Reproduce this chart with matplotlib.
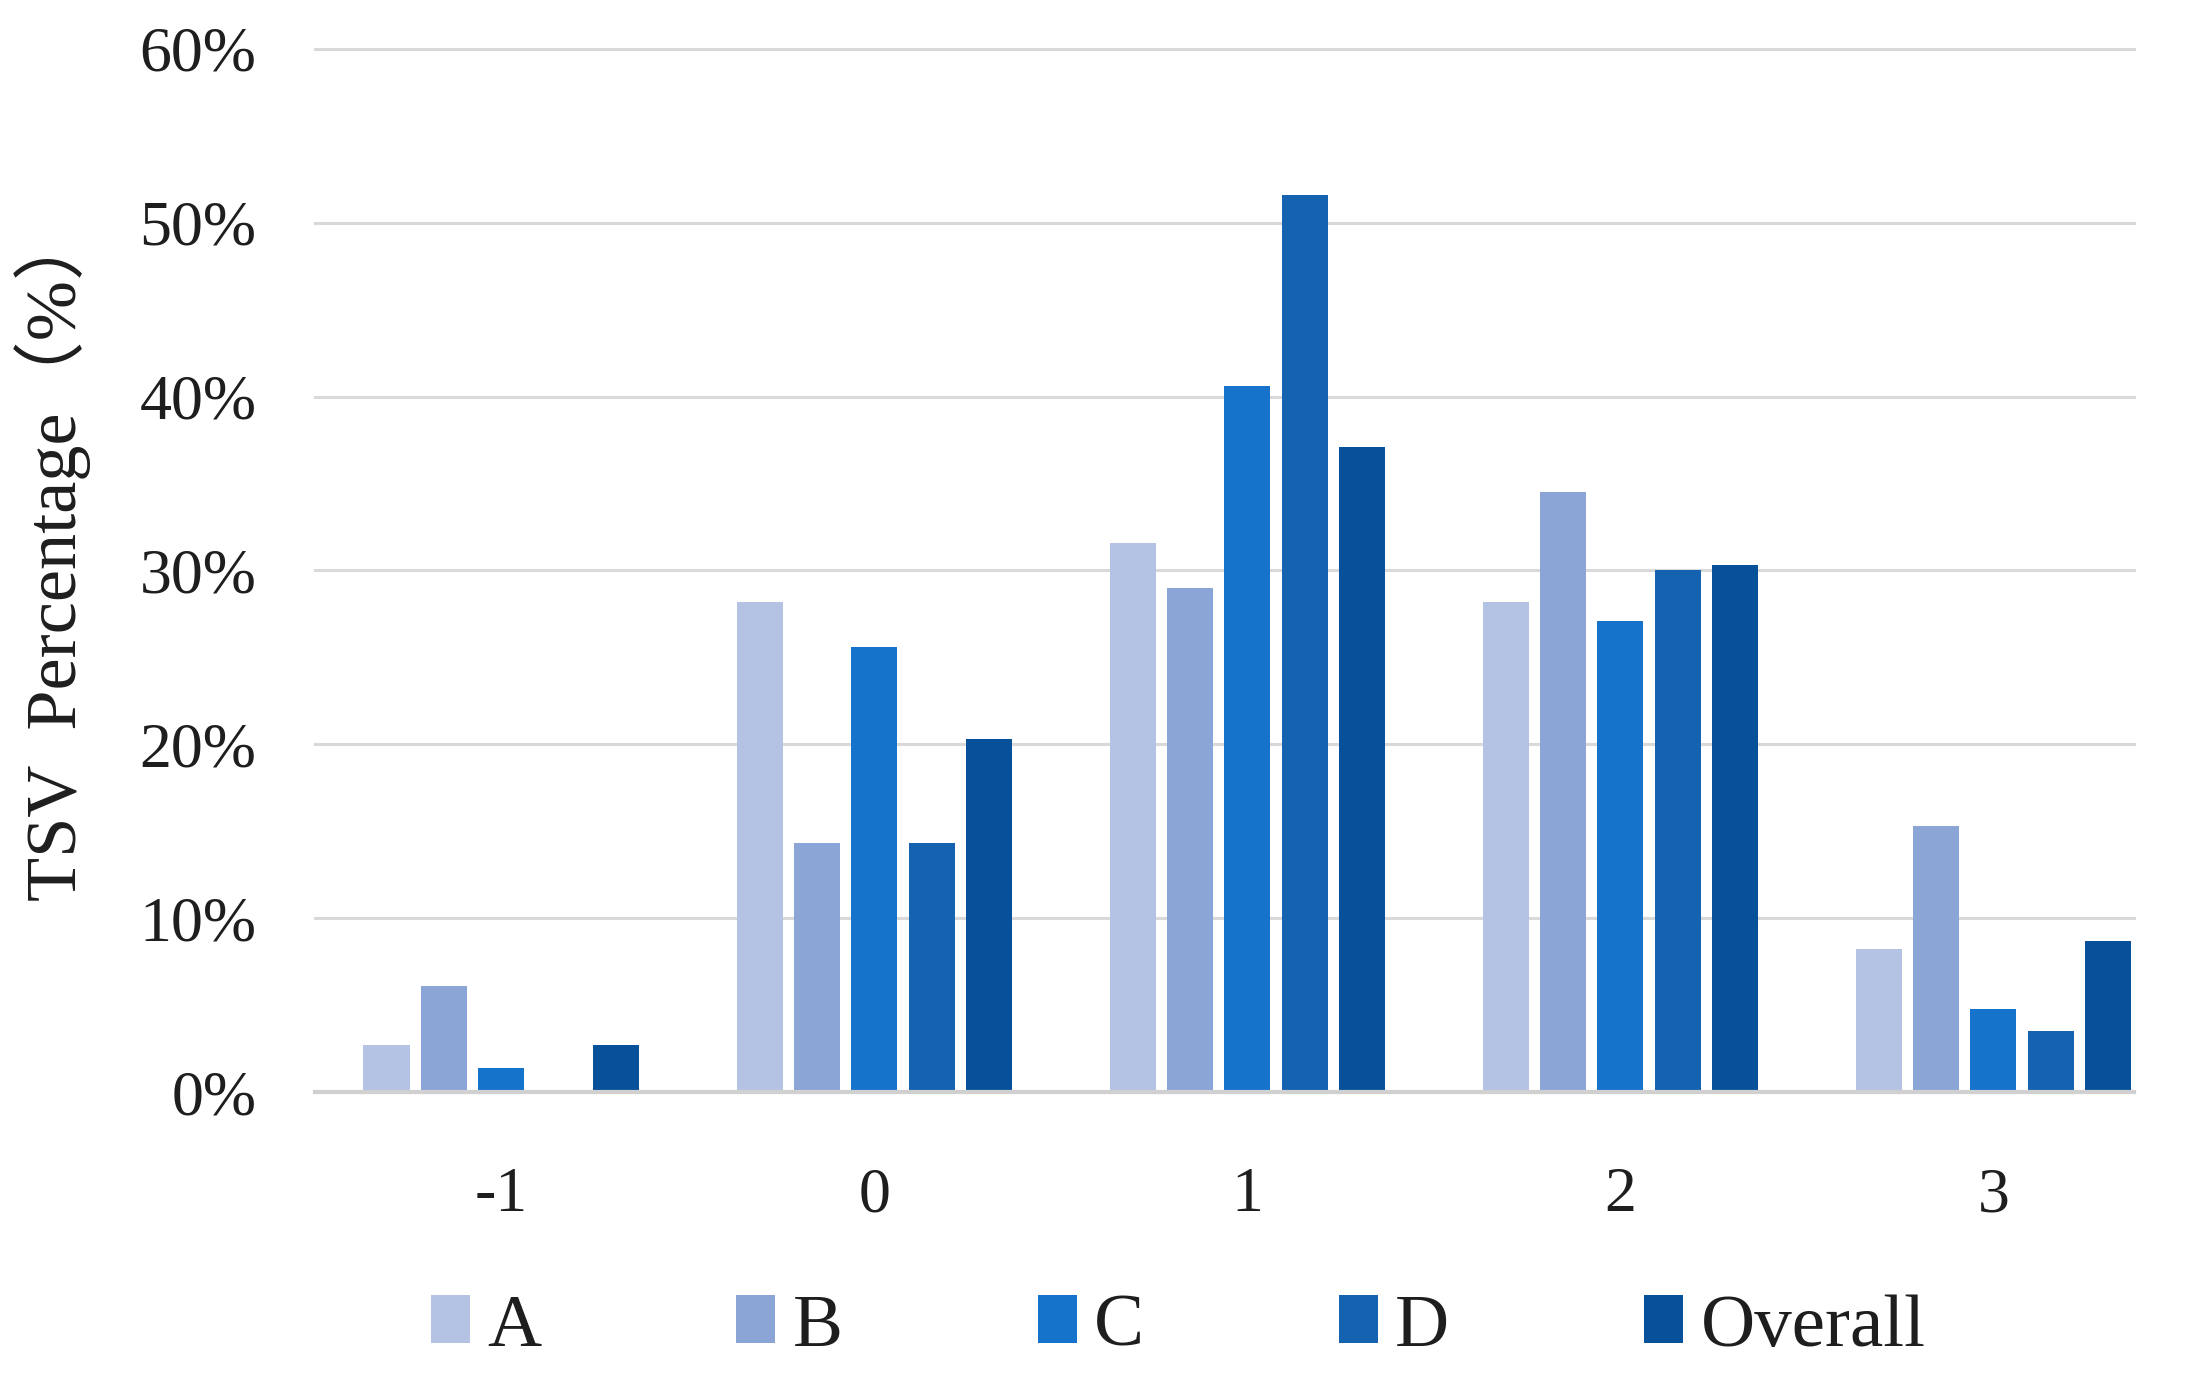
import matplotlib
matplotlib.use("Agg")
import matplotlib.pyplot as plt
import numpy as np
from matplotlib.ticker import FuncFormatter

categories = ["-1", "0", "1", "2", "3"]
series_names = ["A", "B", "C", "D", "Overall"]
A = [2.7, 28.2, 31.6, 28.2, 8.2]
B = [6.1, 14.3, 29.0, 34.5, 15.3]
C = [1.4, 25.6, 40.6, 27.1, 4.8]
D = [0.0, 14.3, 51.6, 30.0, 3.5]
Overall = [2.7, 20.3, 37.1, 30.3, 8.7]
yticks = [0, 10, 20, 30, 40, 50, 60]

series = [A, B, C, D, Overall]
colors = ["#B4C3E3", "#8AA5D6", "#1573CB", "#1563B0", "#06519A"]

plt.rcParams['font.family'] = ['Liberation Serif', 'Noto Sans CJK SC', 'DejaVu Sans']
txt_color = "#1e1e1e"

fig = plt.figure(figsize=(21.96, 13.79), dpi=100)
ax = fig.add_axes([0.1434, 0.2081, 0.8284, 0.7564])

x = np.arange(len(categories))
pitch = 0.154
width = 0.1235
for i, (vals, name, c) in enumerate(zip(series, series_names, colors)):
    ax.bar(x + (i - 2) * pitch, vals, width=width, color=c, label=name, zorder=3)

ax.set_xlim(-0.5, 4.377)
ax.set_ylim(0, 60)
ax.set_yticks(yticks)
ax.yaxis.set_major_formatter(FuncFormatter(lambda v, p: f"{int(v)}%"))
ax.set_xticks(x)
ax.set_xticklabels(categories)

ax.grid(axis='y', color='#D9D9D9', linewidth=2.2, zorder=0)
for ln in ax.get_ygridlines():
    ln.set_clip_on(False)
ax.set_axisbelow(True)
for s in ['top', 'right', 'left']:
    ax.spines[s].set_visible(False)
ax.spines['bottom'].set_color('#D0D0D0')
ax.spines['bottom'].set_linewidth(3)
ax.spines['bottom'].set_zorder(4)

ax.tick_params(axis='both', length=0, labelsize=46, colors=txt_color)
ax.tick_params(axis='x', pad=54)
ax.tick_params(axis='y', pad=42)

ax.set_ylabel("TSV  Percentage（%）", fontsize=52, color=txt_color)
ax.yaxis.set_label_coords(-0.123, 0.515)

fig.legend(loc='center', bbox_to_anchor=(0.5366, 0.037), ncol=5, frameon=False,
           fontsize=54, handlelength=0.52, handleheight=0.6, handletextpad=0.23,
           columnspacing=2.6, labelcolor=txt_color)

fig.savefig("out.png", dpi=100, facecolor='white')
